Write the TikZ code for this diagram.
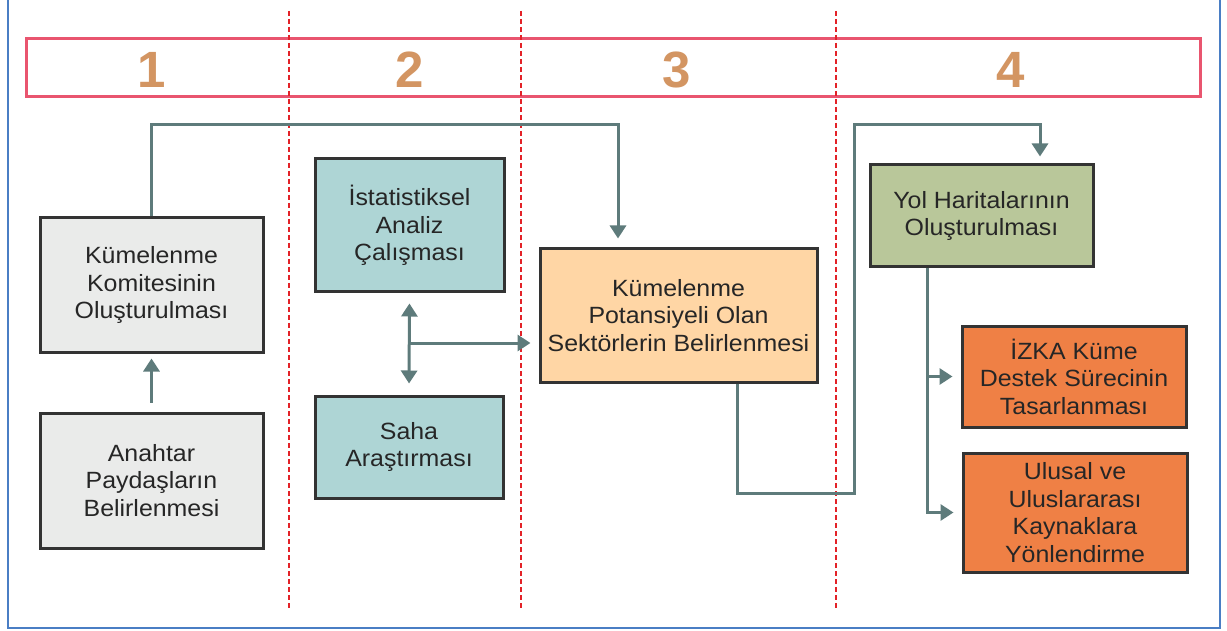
\documentclass[tikz,border=0pt]{standalone}
\usepackage{fontspec}
\setmainfont[FakeStretch=1.06]{Liberation Sans}
\newfontfamily\numfont{Liberation Sans}
\usetikzlibrary{arrows.meta}
\definecolor{boxline}{HTML}{333333}
\definecolor{conncol}{HTML}{5E7B7B}
\definecolor{grayfill}{HTML}{EAEBEA}
\definecolor{tealfill}{HTML}{AED5D5}
\definecolor{peachfill}{HTML}{FFD6A5}
\definecolor{greenfill}{HTML}{B9C79A}
\definecolor{orangefill}{HTML}{EF8045}
\definecolor{pinkline}{HTML}{E9556F}
\definecolor{reddash}{HTML}{E32228}
\definecolor{numcol}{HTML}{D39562}
\definecolor{framecol}{HTML}{4A7EC4}
\definecolor{txtcol}{HTML}{262626}
\tikzset{
  stepbox/.style={draw=boxline, line width=3pt, align=center, inner sep=0pt,
    text=txtcol, font=\fontsize{23.5}{27.5}\selectfont},
  conn/.style={draw=conncol, line width=3pt},
  tip/.style={-{Triangle[width=16pt,length=13pt]}},
  num/.style={text=numcol, font=\numfont\fontsize{51}{51}\selectfont\bfseries},
  divider/.style={draw=reddash, line width=2.5pt, dash pattern=on 5pt off 3pt}
}
\begin{document}
\begin{tikzpicture}[x=1pt,y=-1pt]
\useasboundingbox (0,0) rectangle (1227,631);
\fill[white] (0,0) rectangle (1227,631);
% frame
\draw[framecol, line width=2pt] (8,0) -- (8,628) -- (1220,628) -- (1220,0);
% header
\draw[pinkline, line width=3pt] (26,39) rectangle (1200,97);
\node[num] (n1) at (152,70) {1};
\node[num] (n2) at (410,70) {2};
\node[num] (n3) at (677,70) {3};
\node[num] (n4) at (1011,70) {4};
% dividers
\draw[divider] (289,11) -- (289,610);
\draw[divider] (521,11) -- (521,610);
\draw[divider] (836,11) -- (836,610);
% boxes
\node[stepbox, fill=grayfill, minimum width=223pt, minimum height=134pt] (kom) at (151.5,285) {Kümelenme\\Komitesinin\\Oluşturulması};
\node[stepbox, fill=grayfill, minimum width=223pt, minimum height=135pt] (ana) at (151.5,480.5) {Anahtar\\Paydaşların\\Belirlenmesi};
\node[stepbox, fill=tealfill, minimum width=189pt, minimum height=133pt] (ist) at (409.5,225.5) {İstatistiksel\\Analiz\\Çalışması};
\node[stepbox, fill=tealfill, minimum width=188pt, minimum height=102pt] (saha) at (409,447) {Saha\\Araştırması};
\node[stepbox, fill=peachfill, minimum width=277pt, minimum height=133pt] (pot) at (678.5,315.5) {Kümelenme\\Potansiyeli Olan\\Sektörlerin Belirlenmesi};
\node[stepbox, fill=greenfill, minimum width=223pt, minimum height=102pt] (yol) at (981.5,216) {Yol Haritalarının\\Oluşturulması};
\node[stepbox, fill=orangefill, minimum width=224pt, minimum height=101pt] (izka) at (1074,376.5) {İZKA Küme\\Destek Sürecinin\\Tasarlanması};
\node[stepbox, fill=orangefill, minimum width=224pt, minimum height=119pt] (ulu) at (1075,512.5) {Ulusal ve\\Uluslararası\\Kaynaklara\\Yönlendirme};
% connectors
\draw[conn, tip, shorten <=9pt, shorten >=5pt] (ana.north) -- (kom.south);
\draw[conn, tip, shorten >=9pt] (kom.north) |- (618,125) -- ([xshift=-60.5pt]pot.north);
\coordinate (jn) at (409,343);
\draw[conn, {Triangle[width=16pt,length=13pt]}-{Triangle[width=16pt,length=13pt]}, shorten <=10pt, shorten >=11pt] (ist.south) -- (saha.north);
\draw[conn, tip, shorten >=8pt] (jn) -- (jn -| pot.west);
\draw[conn, tip, shorten >=7pt] ([xshift=58.5pt]pot.south) |- (854,493) |- (1040,125) -- ([xshift=58.5pt]yol.north);
\coordinate (br) at ([xshift=-54.5pt]yol.south);
\draw[conn, tip, shorten >=8pt] (br) |- (ulu.west);
\draw[conn, tip, shorten >=8pt] (br |- izka.west) -- (izka.west);
\end{tikzpicture}
\end{document}
